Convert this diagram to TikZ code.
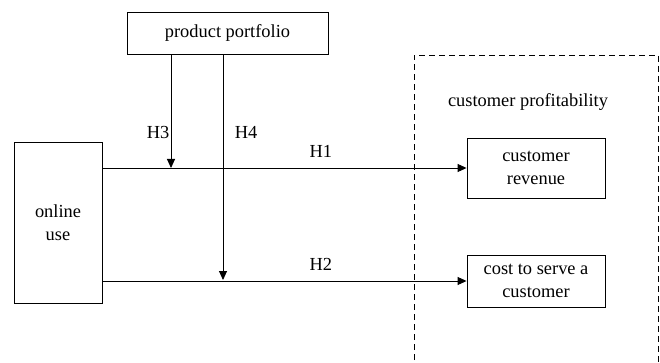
\documentclass[tikz,border=0pt]{standalone}
\usepackage{fontspec}
\setmainfont{Liberation Serif}
\usetikzlibrary{arrows.meta}

\tikzset{
  box/.style={draw, line width=0.9pt, align=center, inner sep=0pt},
  link/.style={line width=0.9pt, -{Triangle[length=9pt,width=8pt]}}
}

\begin{document}
\begin{tikzpicture}[x=1pt, y=-1pt, font=\fontsize{18.4}{23}\selectfont]
\useasboundingbox (0,0) rectangle (660,363);

\node[box, minimum width=201pt, minimum height=42pt] (pp) at (227.5,33) {product portfolio};
\node[box, minimum width=88pt, minimum height=161pt] (ou) at (58,222.5) {online\\use};
\node[box, minimum width=138pt, minimum height=60pt] (rev) at (536,168) {customer\\revenue};
\node[box, minimum width=138pt, minimum height=52pt] (cost) at (536,281) {cost to serve a\\customer};

\draw[dashed, line width=0.9pt, dash pattern=on 6pt off 4pt] (414,380) rectangle (658,55);
\node (cp) at (528,102) {customer profitability};

\coordinate (m1) at (171,168);
\coordinate (m2) at (223,280);

\draw[link] (ou.east |- rev.west) -- node[pos=0.6, above=7pt] (h1) {H1} (rev.west);
\draw[link] (ou.east |- cost.west) -- node[pos=0.6, above=7pt] (h2) {H2} (cost.west);
\draw[link] (pp.south -| m1) -- (m1);
\draw[link] (pp.south -| m2) -- (m2);

\node (h3) at (158,132) {H3};
\node (h4) at (246,132) {H4};
\end{tikzpicture}
\end{document}
